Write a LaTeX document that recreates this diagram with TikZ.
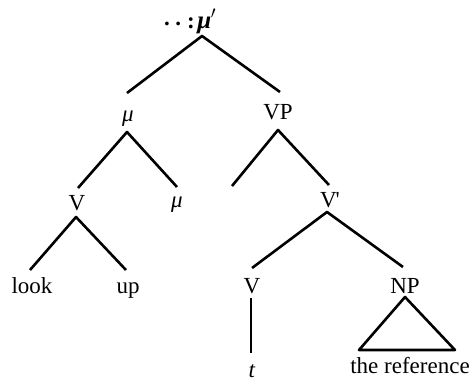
\documentclass[tikz,border=0pt]{standalone}
\usepackage{fontspec}
\setmainfont{Liberation Serif}
\begin{document}
\begin{tikzpicture}[x=1pt,y=-1pt,
  lab/.style={anchor=base,inner sep=0pt,font=\fontsize{23}{26}\selectfont},
  edge/.style={line width=2.6pt,line join=round}]
\useasboundingbox (0,0) rectangle (473,383);
% labels
\node[lab,anchor=base west] (top) at (164,28) {\textbf{\raisebox{3pt}{.}\kern5.5pt\raisebox{3pt}{.}\kern6pt:\kern2.5pt{\fontsize{25}{28}\selectfont\textit{μ}}\kern-0.5pt$'$}};
\node[lab] (mu1) at (128,121) {\textit{μ}};
\node[lab] (vp) at (278,119) {VP};
\node[lab] (v1) at (77,210) {V};
\node[lab] (mu2) at (177,207) {\textit{μ}};
\node[lab] (vbar) at (330,207) {V\kern-1pt\textquotesingle};
\node[lab] (look) at (32,293) {look};
\node[lab] (up) at (128,293) {up};
\node[lab] (v2) at (252,293) {V};
\node[lab] (np) at (405,293) {NP};
\node[lab] (t) at (252,377) {\textit{t}};
\node[lab] (ref) at (410,373) {the reference};
% connector ends
\coordinate (topA) at (202,36);
\coordinate (mu1T) at (127,93);
\coordinate (vpT) at (280,92);
\coordinate (mu1A) at (127,132);
\coordinate (v1T) at (78,188);
\coordinate (mu2T) at (177,187);
\coordinate (vpA) at (278,130);
\coordinate (gap) at (232,186);
\coordinate (vbarT) at (329,185);
\coordinate (v1A) at (76,217);
\coordinate (lookT) at (30,270);
\coordinate (upT) at (126,270);
\coordinate (vbarA) at (327,212);
\coordinate (v2T) at (252,268);
\coordinate (npT) at (403,267);
\coordinate (v2A) at (251,298);
\coordinate (tT) at (251,353);
\coordinate (npA) at (405,297);
\coordinate (triL) at (359,350);
\coordinate (triR) at (455,350);
% connectors
\draw[edge] (mu1T) -- (topA) -- (vpT);
\draw[edge] (v1T) -- (mu1A) -- (mu2T);
\draw[edge] (gap) -- (vpA) -- (vbarT);
\draw[edge] (lookT) -- (v1A) -- (upT);
\draw[edge] (v2T) -- (vbarA) -- (npT);
\draw[edge] (v2A) -- (tT);
\draw[edge] (npA) -- (triL) -- (triR) -- cycle;
\end{tikzpicture}
\end{document}
